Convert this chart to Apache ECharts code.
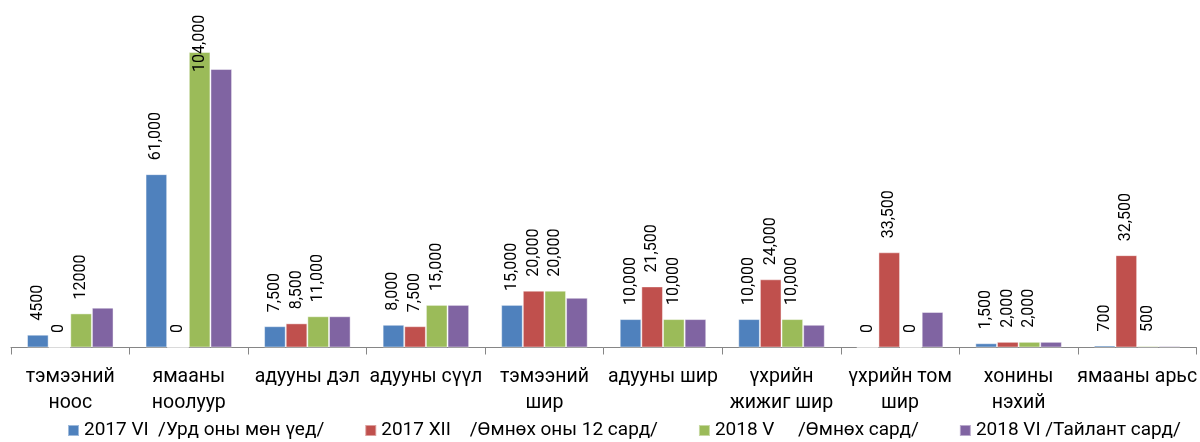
<!DOCTYPE html>
<html>
<head>
<meta charset="utf-8">
<title>chart</title>
<script src="https://cdn.jsdelivr.net/npm/echarts@6/dist/echarts.min.js"></script>
<style>
  html, body { margin: 0; padding: 0; background: #fff; }
  #chart { width: 1200px; height: 442px; }
</style>
</head>
<body>
<div id="chart"></div>
<script>
// categories
var categories = [
  "тэмээний\nноос",
  "ямааны\nноолуур",
  "адууны дэл",
  "адууны сүүл",
  "тэмээний\nшир",
  "адууны шир",
  "үхрийн\nжижиг шир",
  "үхрийн том\nшир",
  "хонины\nнэхий",
  "ямааны арьс",
];

var seriesNames = [
  "2017 VI  /Урд оны мөн үед/",
  "2017 XII    /Өмнөх оны 12 сард/",
  "2018 V     /Өмнөх сард/",
  "2018 VI /Тайлант сард/",
];

var values2017VI = [4500, 61000, 7500, 8000, 15000, 10000, 10000, 0, 1500, 700];
var values2017XII = [0, 0, 8500, 7500, 20000, 21500, 24000, 33500, 2000, 32500];
var values2018V = [12000, 104000, 11000, 15000, 20000, 10000, 10000, 0, 2000, 500];
var values2018VI = [14000, 98000, 11000, 15000, 17500, 10000, 8000, 12500, 2000, 500];

var colors = ["#4F81BD", "#C0504D", "#9BBB59", "#8064A2"];
var fontName = "Roboto";

// first category is written without thousands separator in the source
function labelText(p) {
  if (p.dataIndex === 0) return String(p.value);
  return p.value.toLocaleString("en-US");
}

var dataLabel = {
  show: true,
  position: "top",
  rotate: 90,
  align: "left",
  verticalAlign: "middle",
  distance: 14,
  color: "#000",
  fontFamily: fontName,
  fontSize: 16,
  formatter: labelText,
};

function makeSeries(idx, values, withLabels) {
  return {
    name: seriesNames[idx],
    type: "bar",
    barGap: "0%",
    barCategoryGap: "27%",
    itemStyle: {
      color: colors[idx],
      borderColor: "rgba(255,255,255,0.45)",
      borderWidth: 1,
    },
    label: withLabels ? dataLabel : { show: false },
    data: values.map(function (v, i) {
      // the 104,000 label sits lower, overlapping its bar
      if (withLabels && v === 104000) {
        return { value: v, label: { distance: -20 } };
      }
      return v;
    }),
  };
}

var chart = echarts.init(document.getElementById("chart"));
chart.setOption({
  animation: false,
  textStyle: { fontFamily: fontName },
  grid: {
    left: 11,
    width: 1188,
    top: 6.5,
    height: 341,
    containLabel: false,
  },
  legend: {
    data: seriesNames,
    left: 67,
    top: 421,
    width: 1133,
    padding: 0,
    itemWidth: 11,
    itemHeight: 11,
    itemGap: 40,
    icon: "rect",
    textStyle: {
      color: "#000",
      fontFamily: fontName,
      fontSize: 19,
    },
  },
  xAxis: {
    type: "category",
    data: categories,
    axisLine: { lineStyle: { color: "#868686", width: 1 } },
    axisTick: { show: true, length: 7, lineStyle: { color: "#868686" } },
    axisLabel: {
      interval: 0,
      margin: 17,
      color: "#000",
      fontFamily: fontName,
      fontSize: 19.5,
      lineHeight: 26,
    },
  },
  yAxis: {
    type: "value",
    min: 0,
    max: 120000,
    show: false,
    splitLine: { show: false },
  },
  series: [
    makeSeries(0, values2017VI, true),
    makeSeries(1, values2017XII, true),
    makeSeries(2, values2018V, true),
    makeSeries(3, values2018VI, false),
  ],
});
</script>
</body>
</html>
